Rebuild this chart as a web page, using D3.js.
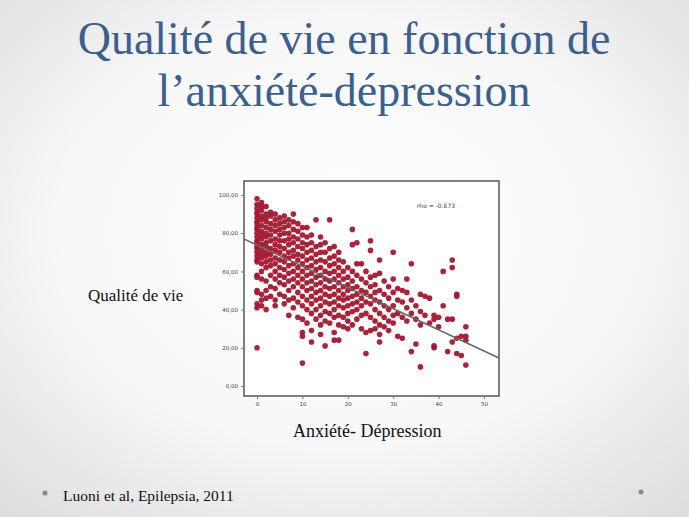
<!DOCTYPE html>
<html><head><meta charset="utf-8">
<script src="https://cdn.jsdelivr.net/npm/d3@7"></script>
<style>body{margin:0;overflow:hidden}</style>
</head><body><svg id="c" width="689" height="517"></svg>
<script>
const depressionValues = [0,1,2,3,4,5,6,7,8,9,10,11,12,13,14,15,16,17,18,19,20,21,22,23,24,25,26,27,28,29,30,31,32,33,34,35,36,37,38,39,40,41,42,43,44,45,46];
const qualityByDepression = [
[98,95,93,91,90,88,86,85,83,82,80,78,76,75,73,72,70,68,66,65,58,57,50,49,43,41,20],
[96,94,92,89,87,84,81,79,77,74,71,69,67,64,60,56,48,45,42],
[94,90,88,86,83,80,78,75,73,70,68,65,62,55,50,46,40],
[91,89,85,82,79,76,72,69,66,63,58,52,47],
[90,87,84,81,77,74,71,67,64,60,56,51,45,42],
[88,85,82,79,76,73,70,66,62,58,54,48],
[89,86,83,80,76,72,68,65,61,57,53,47,43],
[87,84,80,77,74,70,67,63,59,55,50,45,37],
[90,86,82,78,75,71,68,64,60,56,52,46,41],
[85,81,77,73,69,66,62,58,54,49,44,36],
[83,79,75,72,68,64,60,56,52,47,42,35,28,26,12],
[83,78,74,70,66,62,58,54,50,45,40,33],
[79,75,71,67,63,59,55,51,47,43,38,29,23],
[87,73,69,65,61,57,53,49,45,40,35],
[78,74,70,66,62,58,54,50,46,42,37,32,27],
[75,70,65,60,56,52,48,44,39,34,21],
[87,72,67,63,59,55,51,47,43,38,33],
[73,68,64,60,56,52,48,44,40,36,28,24],
[70,66,62,58,54,50,46,42,37,32,24],
[65,60,56,52,48,45,41,36,31],
[62,57,53,50,46,42,38,34,30],
[82,74,60,55,51,47,43,39,32],
[75,64,58,52,48,44,40,35],
[64,56,50,46,42,37,30],
[60,54,49,44,38,28,17],
[76,71,57,52,47,43,36,29],
[58,53,49,45,40,34,30],
[66,59,50,44,38,32,27,23],
[55,48,42,36,31],
[52,46,40,34,29],
[70,56,49,42,37,33],
[51,45,38,26],
[50,44,36,25],
[56,49,41,34],
[64,45,38,18],
[42,35,22],
[48,39,32,10],
[47,37],
[46,33],
[37,35,21,20],
[36,31],
[60,42],
[35,18],
[66,62,35,23],
[48,47,25,17],
[26,16],
[31,26,24,11]
];
const xTicks = [0,10,20,30,40,50];
const yTicks = [0,20,40,60,80,100];
const regression = {intercept: 73.8, slope: -1.11, from: -2.9, to: 53.3};
const rhoLabel = "rho = -0.673";

const svg = d3.select("#c");
const defs = svg.append("defs");
const g = defs.append("radialGradient").attr("id","bg").attr("cx","50%").attr("cy","45%").attr("r","75%");
g.append("stop").attr("offset","0%").attr("stop-color","#ffffff");
g.append("stop").attr("offset","55%").attr("stop-color","#f7f7f7");
g.append("stop").attr("offset","100%").attr("stop-color","#dcdcdc");
svg.append("rect").attr("width",689).attr("height",517).attr("fill","url(#bg)");

const serif = "'Liberation Serif','DejaVu Serif',serif";
svg.append("text").attr("x",344).attr("y",54).attr("text-anchor","middle").attr("font-family",serif)
  .attr("font-size",46).attr("fill","#3b5f8e").text("Qualité de vie en fonction de");
svg.append("text").attr("x",344).attr("y",106).attr("text-anchor","middle").attr("font-family",serif)
  .attr("font-size",46).attr("fill","#3b5f8e").text("l’anxiété-dépression");

const x = d3.scaleLinear().domain([0,50]).range([257,484]);
const y = d3.scaleLinear().domain([0,100]).range([386,195]);
const L=244,R=499,T=181,B=396;
svg.append("rect").attr("x",L).attr("y",T).attr("width",R-L).attr("height",B-T).attr("fill","#fff")
  .attr("stroke","#555").attr("stroke-width",1.5);

const xa = svg.append("g").attr("transform",`translate(0,${B})`).call(d3.axisBottom(x).tickValues(xTicks).tickSize(3));
const ya = svg.append("g").attr("transform",`translate(${L},0)`).call(d3.axisLeft(y).tickValues(yTicks).tickSize(3).tickFormat(d=>d.toFixed(2).replace(".",",")));
[xa,ya].forEach(a=>{a.select(".domain").remove();a.selectAll("line").attr("stroke","#777");
  a.selectAll("text").attr("font-family","'DejaVu Sans',sans-serif").attr("font-size",5.5).attr("fill","#444");});

const pts = [];
depressionValues.forEach((d,i)=>qualityByDepression[i].forEach(q=>pts.push([d,q])));
svg.append("g").selectAll("circle").data(pts).join("circle")
  .attr("cx",d=>x(d[0])).attr("cy",d=>y(d[1])).attr("r",2.8).attr("fill","#a3182f").attr("opacity",0.95);

const line = d3.line().x(d=>x(d)).y(d=>y(regression.intercept+regression.slope*d));
svg.append("path").attr("d",line([regression.from,regression.to])).attr("stroke","#666").attr("stroke-width",1.5).attr("fill","none");

svg.append("text").attr("x",417).attr("y",208).attr("font-family","'DejaVu Sans',sans-serif").attr("font-size",6).attr("fill","#444").text(rhoLabel);

svg.append("text").attr("x",88).attr("y",301).attr("font-family",serif).attr("font-size",17).attr("fill","#111").text("Qualité de vie");
svg.append("text").attr("x",293).attr("y",437).attr("font-family",serif).attr("font-size",18).attr("fill","#111").text("Anxiété- Dépression");
svg.append("text").attr("x",63).attr("y",501).attr("font-family",serif).attr("font-size",15.5).attr("fill","#111").text("Luoni et al, Epilepsia, 2011");
svg.append("circle").attr("cx",45).attr("cy",493).attr("r",2.5).attr("fill","#888");
svg.append("circle").attr("cx",641).attr("cy",492).attr("r",2.5).attr("fill","#888");
</script></body></html>
